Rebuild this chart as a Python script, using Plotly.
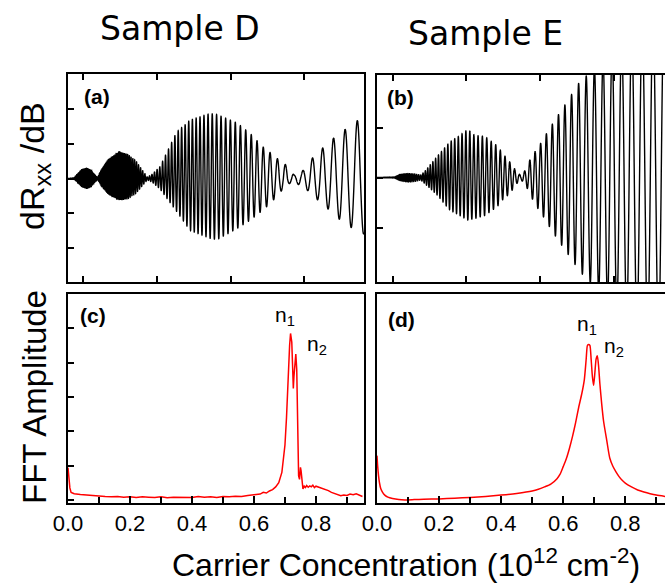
import numpy as np
import plotly.graph_objects as go

# ---------------- data ----------------
# Panel (a): Sample D, dRxx/dB envelope (upper / lower amplitude) versus field
a_env_B = [0.792, 0.873, 0.914, 0.982, 1.046, 1.104, 1.158, 1.192, 1.240, 1.335, 1.484, 1.606,
           1.715, 1.796, 1.868, 1.932, 2.040, 2.267, 2.447, 2.719, 2.814, 3.085, 3.262, 3.438,
           3.533, 3.628, 3.710, 3.791, 3.858, 3.940, 3.994, 4.103, 4.238, 4.388, 4.551, 4.713, 4.808]
a_env_up = [0.0, 0.01, 0.12, 0.27, 0.31, 0.25, 0.10, 0.02, 0.25, 0.55, 0.77, 0.70,
            0.50, 0.25, 0.04, 0.12, 0.34, 1.34, 1.68, 1.87, 1.84, 1.60, 1.30, 0.91,
            0.75, 0.58, 0.45, 0.33, 0.10, 0.15, 0.26, 0.58, 0.86, 1.15, 1.41, 1.66, 1.75]
a_env_lo = [0.0, 0.01, 0.10, 0.25, 0.30, 0.24, 0.10, 0.02, 0.20, 0.45, 0.62, 0.58,
            0.42, 0.22, 0.04, 0.10, 0.30, 0.95, 1.49, 1.72, 1.76, 1.44, 1.20, 0.91,
            0.72, 0.51, 0.30, 0.15, 0.10, 0.20, 0.24, 0.48, 0.72, 1.01, 1.32, 1.50, 1.60]
# local oscillation period (field units)
a_per_B = [0.792, 1.226, 1.905, 2.244, 2.583, 2.990, 3.329, 3.601, 3.804, 4.048, 4.184, 4.320,
           4.469, 4.632, 4.808]
a_per = [0.0041, 0.0095, 0.0326, 0.0448, 0.0529, 0.0651, 0.0787, 0.1018, 0.1153, 0.1303, 0.1384,
         0.1479, 0.1574, 0.1655, 0.1710]
a_peak_B = 4.717  # position of a maximum

# Panel (b): Sample E
b_env_B = [0.787, 1.027, 1.095, 1.203, 1.298, 1.380, 1.434, 1.597, 1.773, 1.909, 2.018, 2.113,
           2.249, 2.412, 2.493, 2.588, 2.683, 2.737, 2.805, 2.859, 2.927, 3.004, 3.085, 3.161,
           3.248, 3.334, 3.425, 3.520, 3.673, 3.877, 4.148, 4.420, 4.691]
b_env_up = [0.0, 0.01, 0.06, 0.08, 0.07, 0.05, 0.12, 0.41, 0.71, 0.84, 0.96, 0.84,
            0.82, 0.64, 0.48, 0.31, 0.11, 0.04, 0.16, 0.35, 0.51, 0.68, 0.88, 1.06,
            1.26, 1.45, 1.66, 1.88, 2.10, 2.40, 2.80, 3.10, 3.30]
b_env_lo = [0.0, 0.01, 0.06, 0.09, 0.08, 0.05, 0.12, 0.34, 0.65, 0.76, 0.85, 0.82,
            0.76, 0.59, 0.44, 0.32, 0.12, 0.04, 0.16, 0.33, 0.53, 0.70, 0.88, 1.08,
            1.26, 1.45, 1.63, 1.85, 2.10, 2.40, 2.80, 3.10, 3.30]
b_per_B = [0.787, 1.095, 1.393, 1.773, 2.180, 2.588, 2.859, 3.063, 3.266, 3.470, 3.673, 3.904,
           4.148, 4.420, 4.691]
b_per = [0.0068, 0.0163, 0.0299, 0.0461, 0.0583, 0.0651, 0.0706, 0.0787, 0.0855, 0.0950, 0.1113,
         0.1221, 0.1357, 0.1465, 0.1493]
b_peak_B = 3.520

# Panel (c): Sample D FFT amplitude vs carrier concentration (1e12 cm^-2)
c_n = [0.000, 0.003, 0.006, 0.010, 0.02, 0.04, 0.06, 0.08, 0.10, 0.12, 0.14, 0.16, 0.18, 0.20,
       0.22, 0.24, 0.26, 0.28, 0.30, 0.32, 0.34, 0.36, 0.38, 0.40, 0.42, 0.44, 0.46, 0.48, 0.50,
       0.52, 0.54, 0.56, 0.58, 0.60, 0.62, 0.63, 0.64, 0.65, 0.66, 0.67, 0.68, 0.69, 0.70, 0.705,
       0.71, 0.715, 0.718, 0.722, 0.725, 0.727, 0.729, 0.732, 0.735, 0.738, 0.741, 0.744, 0.747,
       0.750, 0.752, 0.755, 0.758, 0.762, 0.766, 0.770, 0.775, 0.78, 0.785, 0.79, 0.795, 0.80,
       0.81, 0.82, 0.83, 0.84, 0.85, 0.86, 0.87, 0.88, 0.89, 0.90, 0.91, 0.92, 0.93, 0.94, 0.95]
c_amp = [0.94, 0.60, 0.35, 0.22, 0.18, 0.16, 0.14, 0.12, 0.11, 0.10, 0.09, 0.10, 0.08, 0.09,
         0.07, 0.09, 0.08, 0.07, 0.09, 0.06, 0.08, 0.07, 0.08, 0.07, 0.10, 0.08, 0.09, 0.07, 0.10,
         0.09, 0.11, 0.10, 0.13, 0.15, 0.17, 0.22, 0.20, 0.26, 0.30, 0.38, 0.50, 0.80, 1.60, 2.40,
         3.60, 4.50, 4.85, 4.60, 3.80, 3.25, 3.60, 4.10, 4.25, 3.80, 2.20, 0.70, 0.60,
         0.95, 0.85, 0.55, 0.32, 0.40, 0.36, 0.42, 0.37, 0.41, 0.38, 0.43, 0.36, 0.40,
         0.37, 0.34, 0.30, 0.27, 0.22, 0.18, 0.14, 0.12, 0.14, 0.13, 0.17, 0.15, 0.18, 0.13, 0.10]

# Panel (d): Sample E FFT amplitude
d_n = [0.000, 0.002, 0.005, 0.008, 0.012, 0.018, 0.025, 0.035, 0.05, 0.07, 0.09, 0.12, 0.15,
       0.20, 0.25, 0.30, 0.35, 0.40, 0.45, 0.50, 0.52, 0.54, 0.56, 0.58, 0.59, 0.60, 0.61, 0.62,
       0.63, 0.64, 0.65, 0.66, 0.668, 0.674, 0.678, 0.682, 0.686, 0.690, 0.694, 0.698, 0.702,
       0.706, 0.710, 0.714, 0.718, 0.724, 0.730, 0.74, 0.75, 0.76, 0.77, 0.78, 0.79, 0.80, 0.82,
       0.84, 0.86, 0.88, 0.90, 0.93]
d_amp = [1.29, 1.00, 0.70, 0.50, 0.33, 0.22, 0.14, 0.08, 0.04, 0.01, 0.00, 0.01, 0.02,
         0.03, 0.05, 0.07, 0.10, 0.14, 0.19, 0.26, 0.31, 0.38, 0.46, 0.62, 0.75, 0.97, 1.20, 1.50,
         1.85, 2.25, 2.70, 3.10, 3.50, 4.10, 4.50, 4.53, 4.50, 4.10, 3.60, 3.34, 3.70,
         4.10, 4.20, 3.90, 3.40, 2.80, 2.30, 1.75, 1.22, 0.98, 0.82, 0.68, 0.57, 0.49, 0.38,
         0.29, 0.23, 0.18, 0.14, 0.10]

x_ticks_top = [1, 2, 3, 4]
d_right_ticks = [1.65, 3.63, 5.62]


def build_trace(env_B, up, lo, per_B, per, peak_B, n=15000):
    B = np.linspace(env_B[0], env_B[-1], n)
    period = np.interp(B, per_B, per)
    dB = np.diff(B, prepend=B[0])
    cycles = np.cumsum(dB / period)
    c0 = np.interp(peak_B, B, cycles)
    cycles = cycles - (c0 - np.round(c0))
    c = np.cos(2 * np.pi * cycles)
    u = np.interp(B, env_B, up)
    l = np.interp(B, env_B, lo)
    y = np.where(c >= 0, u * c, l * c)
    return B, y


aB, aY = build_trace(a_env_B, a_env_up, a_env_lo, a_per_B, a_per, a_peak_B)
bB, bY = build_trace(b_env_B, b_env_up, b_env_lo, b_per_B, b_per, b_peak_B)

fig = go.Figure()
fig.add_trace(go.Scatter(x=aB, y=aY, mode="lines", xaxis="x", yaxis="y",
                         line=dict(color="black", width=1.4, simplify=False), showlegend=False))
fig.add_trace(go.Scatter(x=bB, y=bY, mode="lines", xaxis="x2", yaxis="y2",
                         line=dict(color="black", width=1.4, simplify=False), showlegend=False))
fig.add_trace(go.Scatter(x=c_n, y=c_amp, mode="lines", xaxis="x3", yaxis="y3",
                         line=dict(color="#ff0000", width=1.5), showlegend=False))
fig.add_trace(go.Scatter(x=d_n, y=d_amp, mode="lines", xaxis="x4", yaxis="y4",
                         line=dict(color="#ff0000", width=1.5, shape="spline", smoothing=0.6),
                         showlegend=False))

W, H = 665, 586
ml, mr, mt, mb = 68, 0, 74, 83
pw, ph = W - ml - mr, H - mt - mb
def dx(p0, p1):
    return [(p0 - ml) / pw, (p1 - ml) / pw]
def dy(p_top, p_bot):
    return [(H - mb - p_bot) / ph, (H - mb - p_top) / ph]
def px(p):
    return (p - ml) / pw
def py(p):
    return (H - mb - p) / ph

base = dict(showline=True, linecolor="black", linewidth=2, ticks="inside", tickcolor="black",
            tickwidth=1.5, ticklen=6, showgrid=False, zeroline=False)
tickfont = dict(family="Liberation Sans, Arial, sans-serif", size=22, color="black")

fig.update_layout(
    width=W, height=H, margin=dict(l=ml, r=mr, t=mt, b=mb),
    paper_bgcolor="white", plot_bgcolor="white",
    xaxis=dict(base, domain=dx(68, 364), anchor="y", range=[0.792, 4.808], tickvals=x_ticks_top,
               showticklabels=False, mirror="ticks"),
    yaxis=dict(base, domain=dy(74, 282), anchor="x", range=[-2.98, 3.01],
               tickvals=[-2, -1, 0, 1, 2], showticklabels=False, mirror=True),
    xaxis2=dict(base, domain=dx(377, 665), anchor="y2", range=[0.787, 4.691], tickvals=x_ticks_top,
                showticklabels=False, mirror="ticks"),
    yaxis2=dict(base, domain=dy(75, 282), anchor="x2", range=[-2.09, 2.05],
                tickvals=[-1, 0, 1], showticklabels=False, mirror=False),
    xaxis3=dict(base, domain=dx(68, 364), anchor="y3", range=[0, 0.955], tick0=0, dtick=0.2,
                tickformat=".1f", tickfont=tickfont, mirror=True, ticklen=7,
                minor=dict(ticks="inside", dtick=0.1, ticklen=6, tickcolor="black", tickwidth=1.5)),
    yaxis3=dict(base, domain=dy(294, 503), anchor="x3", range=[-0.09, 6.0],
                tickvals=[0, 1, 2, 3, 4, 5], showticklabels=False, mirror=True),
    xaxis4=dict(base, domain=dx(377, 665), anchor="y4", range=[0, 0.928], tick0=0, dtick=0.2,
                tickformat=".1f", tickfont=tickfont, mirror=True, ticklen=7,
                minor=dict(ticks="inside", dtick=0.1, ticklen=6, tickcolor="black", tickwidth=1.5)),
    yaxis4=dict(base, domain=dy(294, 503), anchor="x4", range=[-0.09, 6.0], ticks="",
                showticklabels=False, mirror=False),
    yaxis5=dict(overlaying="y4", anchor="x4", side="right", range=[-0.09, 6.0],
                tickvals=d_right_ticks, ticks="inside", ticklen=3, tickwidth=1.5,
                tickcolor="black", showticklabels=False, showline=False, showgrid=False,
                zeroline=False),
)

ann_font = dict(family="Liberation Sans, Arial, sans-serif", color="black")
anns = []
# column titles
anns.append(dict(text="Sample D", xref="paper", yref="paper", x=px(180), y=py(28),
                 xanchor="center", yanchor="middle", showarrow=False,
                 font=dict(family="DejaVu Sans", size=33, color="black")))
anns.append(dict(text="Sample E", xref="paper", yref="paper", x=px(485), y=py(33),
                 xanchor="center", yanchor="middle", showarrow=False,
                 font=dict(family="DejaVu Sans", size=33, color="black")))
# axis titles
anns.append(dict(text="dR<sub>xx</sub> /dB", xref="paper", yref="paper", x=px(34), y=py(166),
                 xanchor="center", yanchor="middle", textangle=-90, showarrow=False,
                 font=dict(ann_font, size=34)))
anns.append(dict(text="FFT Amplitude", xref="paper", yref="paper", x=px(34), y=py(397),
                 xanchor="center", yanchor="middle", textangle=-90, showarrow=False,
                 font=dict(ann_font, size=33)))
anns.append(dict(text="Carrier Concentration (10<sup>12</sup> cm<sup>-2</sup>)", xref="paper",
                 yref="paper", x=px(406), y=py(563), xanchor="center", yanchor="middle",
                 showarrow=False, font=dict(ann_font, size=32)))
# panel labels
for lab, xr, yr, xx, yy in [("(a)", "x domain", "y domain", 0.046, 0.894),
                            ("(b)", "x2 domain", "y2 domain", 0.027, 0.889),
                            ("(c)", "x3 domain", "y3 domain", 0.035, 0.895),
                            ("(d)", "x4 domain", "y4 domain", 0.030, 0.880)]:
    anns.append(dict(text="<b>%s</b>" % lab, xref=xr, yref=yr, x=xx, y=yy, xanchor="left",
                     yanchor="middle", showarrow=False, font=dict(ann_font, size=21)))
# peak labels
for lab, xr, yr, xx, yy in [("n<sub>1</sub>", "x3", "y3", 0.662, 5.35),
                            ("n<sub>2</sub>", "x3", "y3", 0.7645, 4.50),
                            ("n<sub>1</sub>", "x4", "y4", 0.638, 5.10),
                            ("n<sub>2</sub>", "x4", "y4", 0.724, 4.45)]:
    anns.append(dict(text=lab, xref=xr, yref=yr, x=xx, y=yy, xanchor="left", yanchor="middle",
                     showarrow=False, font=dict(ann_font, size=21)))
fig.update_layout(annotations=anns)

fig.write_html("out.html", config={"displayModeBar": False},
               post_script="document.body.style.margin='0px';")
